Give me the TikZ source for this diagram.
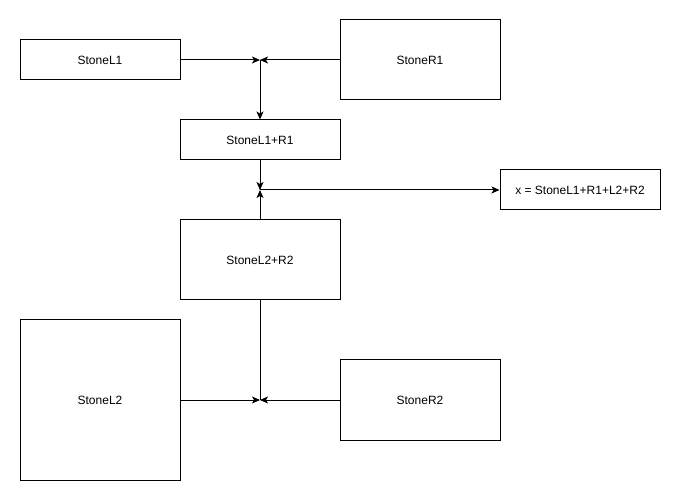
\documentclass[tikz,border=0pt]{standalone}
\usepackage{fontspec}
\setmainfont{Liberation Sans}
\usetikzlibrary{arrows.meta}
\begin{document}
\begin{tikzpicture}[x=0.75pt,y=-0.75pt,
  box/.style={draw,line width=0.75pt,inner sep=0pt,font=\fontsize{9}{11}\selectfont},
  link/.style={line width=0.75pt},
  arr/.style={link,-{Stealth[length=6pt,width=5.25pt,inset=1.5pt]}}]
  \useasboundingbox (0,0) rectangle (682,502);
  \node[box,minimum width=120pt,minimum height=30pt] (l1) at (100,60) {StoneL1};
  \node[box,minimum width=120pt,minimum height=60pt] (r1) at (420,60) {StoneR1};
  \node[box,minimum width=120pt,minimum height=30pt] (lr1) at (260,140) {StoneL1+R1};
  \node[box,minimum width=120pt,minimum height=30pt] (x) at (580,190) {x = StoneL1+R1+L2+R2};
  \node[box,minimum width=120pt,minimum height=60pt] (lr2) at (260,260) {StoneL2+R2};
  \node[box,minimum width=120pt,minimum height=120pt] (l2) at (100,400) {StoneL2};
  \node[box,minimum width=120pt,minimum height=60pt] (r2) at (420,400) {StoneR2};
  \coordinate (j1) at (260,60);
  \coordinate (j2) at (260,190);
  \coordinate (j3) at (260,400);
  \draw[arr] (l1.east) -- (j1);
  \draw[arr] (r1.west) -- (j1);
  \draw[arr] (j1) -- (lr1.north);
  \draw[arr] (lr1.south) -- (j2);
  \draw[arr] (lr2.north) -- (j2);
  \draw[arr] (j2) -- (x.west);
  \draw[arr] (l2.east) -- (j3);
  \draw[arr] (r2.west) -- (j3);
  \draw[link] (j3) -- (lr2.south);
\end{tikzpicture}
\end{document}
